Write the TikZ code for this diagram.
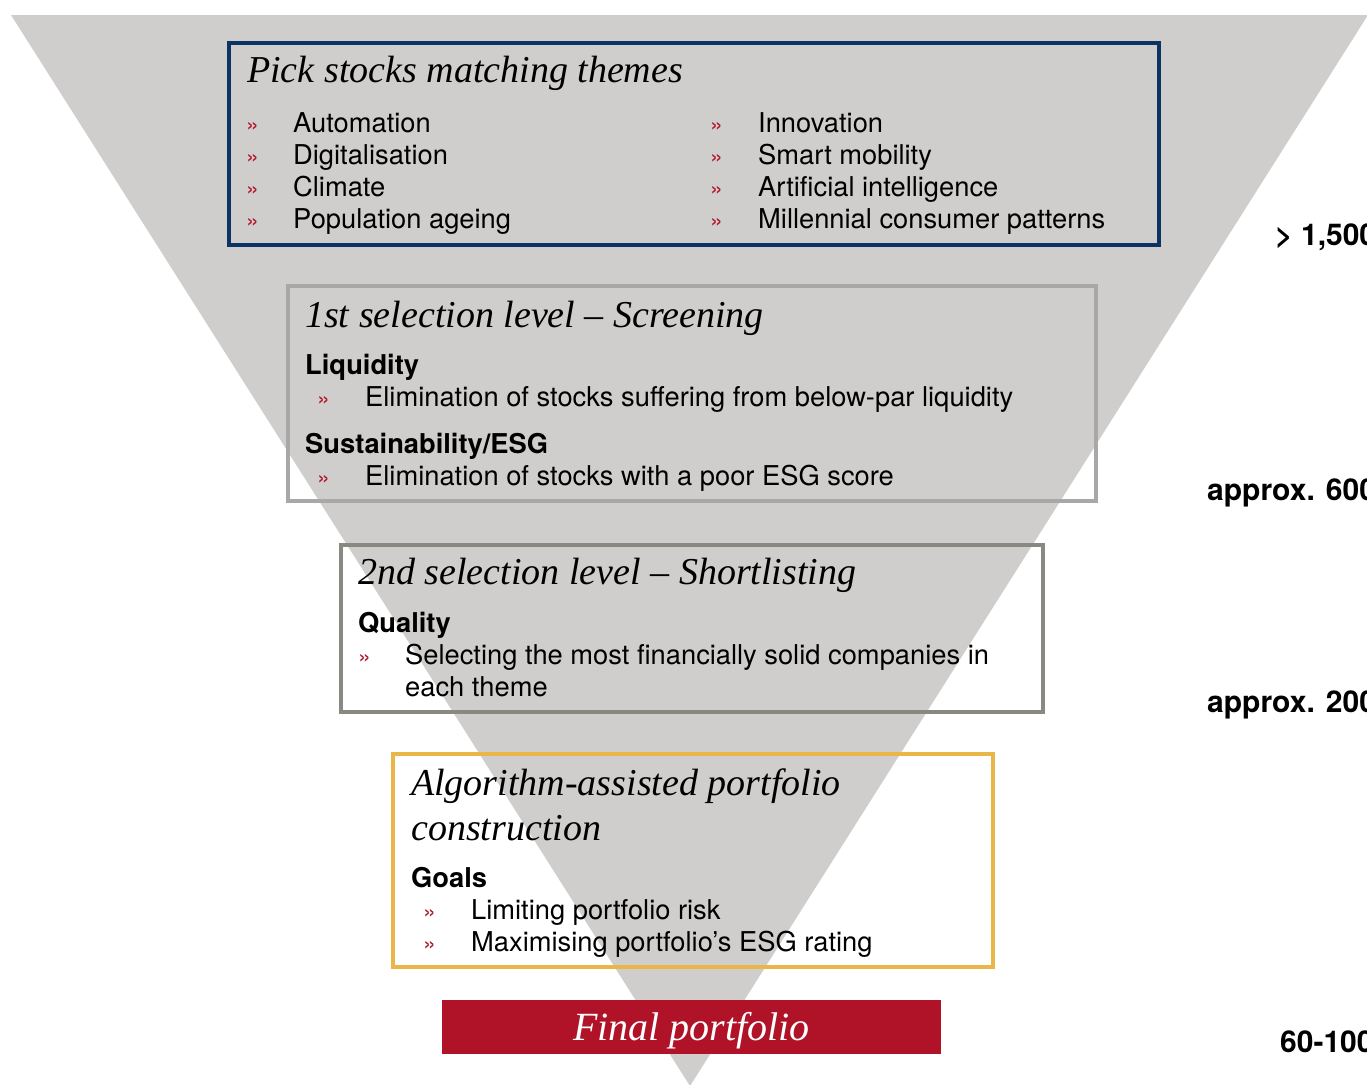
\documentclass[tikz,border=0pt]{standalone}
\usepackage{fontspec}
\newfontfamily\hv{TeX Gyre Heros}
\newfontfamily\sr{Liberation Serif}
\definecolor{funnelgray}{RGB}{207,206,204}
\definecolor{navy}{RGB}{12,52,98}
\definecolor{lgray}{RGB}{168,168,168}
\definecolor{ggray}{RGB}{136,138,130}
\definecolor{gold}{RGB}{232,183,72}
\definecolor{crimson}{RGB}{176,18,40}
\tikzset{
  frame/.style={draw, line width=4pt, fill=none, inner sep=0pt},
  ttl/.style={anchor=base west, inner sep=0pt, font=\sr\itshape\fontsize{38}{44}\selectfont},
  body/.style={anchor=base west, inner sep=0pt, font=\hv\fontsize{27.3}{32}\selectfont},
  bold/.style={anchor=base west, inner sep=0pt, font=\hv\bfseries\fontsize{27.3}{32}\selectfont},
  bul/.style={anchor=base west, inner sep=0pt, text=crimson, font=\hv\fontsize{23}{26}\selectfont},
  count/.style={anchor=base west, inner sep=0pt, font=\hv\bfseries\fontsize{30}{36}\selectfont}
}
\begin{document}
\begin{tikzpicture}[x=1pt,y=-1pt]
\useasboundingbox (0,0) rectangle (1367,1084);
\clip (0,0) rectangle (1367,1084);
\fill[funnelgray] (11,15) -- (1368,15) -- (690,1086) -- cycle;

% box 1
\node[frame, draw=navy, minimum width=930, minimum height=202] (themes) at (694,144) {};
\node[ttl] (t1) at (247,82) {Pick stocks matching themes};
\foreach \y/\a/\b [count=\i] in {132/Automation/Innovation, 164/Digitalisation/Smart mobility, 196/Climate/Artificial intelligence, 228/Population ageing/Millennial consumer patterns}{
  \node[bul] (bl\i) at (246,\y) {»};
  \node[body] (l\i) at (293,\y) {\a};
  \node[bul] (br\i) at (710,\y) {»};
  \node[body] (r\i) at (758,\y) {\b};
}

% box 2
\node[frame, draw=lgray, minimum width=808, minimum height=215] (screen) at (692,393.5) {};
\node[ttl] (t2) at (305,327) {1st selection level – Screening};
\node[bold] (liq) at (305,374) {Liquidity};
\node[bul] (b21) at (317,406) {»};
\node[body] (liqt) at (365,406) {Elimination of stocks suffering from below-par liquidity};
\node[bold] (esg) at (305,453) {Sustainability/ESG};
\node[bul] (b22) at (317,485) {»};
\node[body] (esgt) at (365,485) {Elimination of stocks with a poor ESG score};

% box 3
\node[frame, draw=ggray, minimum width=702, minimum height=167] (short) at (692,628.5) {};
\node[ttl] (t3) at (358,584) {2nd selection level – Shortlisting};
\node[bold] (qual) at (358,632) {Quality};
\node[bul] (b31) at (358,664) {»};
\node[body] (qualt) at (405,664) {Selecting the most financially solid companies in};
\node[body] (qualt2) at (405,696) {each theme};

% box 4
\node[frame, draw=gold, minimum width=600, minimum height=213] (algo) at (693,860.5) {};
\node[ttl] (t4a) at (411,795) {Algorithm-assisted portfolio};
\node[ttl] (t4b) at (411,840) {construction};
\node[bold] (goals) at (411,887) {Goals};
\node[bul] (b41) at (423,919) {»};
\node[body] (g1) at (471,919) {Limiting portfolio risk};
\node[bul] (b42) at (423,951) {»};
\node[body] (g2) at (471,951) {Maximising portfolio’s ESG rating};

% final
\node[fill=crimson, minimum width=499, minimum height=54, inner sep=0pt] (final) at (691.5,1027) {};
\node[inner sep=0pt, anchor=base, text=white, font=\sr\itshape\fontsize{40}{46}\selectfont] (finalt) at (691.5,1040) {Final portfolio};

% counts (cut off by the right edge, as in the reference)
\node[count] (c1) at (1275,245) {> 1,500};
\node[count] (c2) at (1207,500) {approx. 600};
\node[count] (c3) at (1207,712) {approx. 200};
\node[count] (c4) at (1280,1052) {60-100};
\end{tikzpicture}
\end{document}
